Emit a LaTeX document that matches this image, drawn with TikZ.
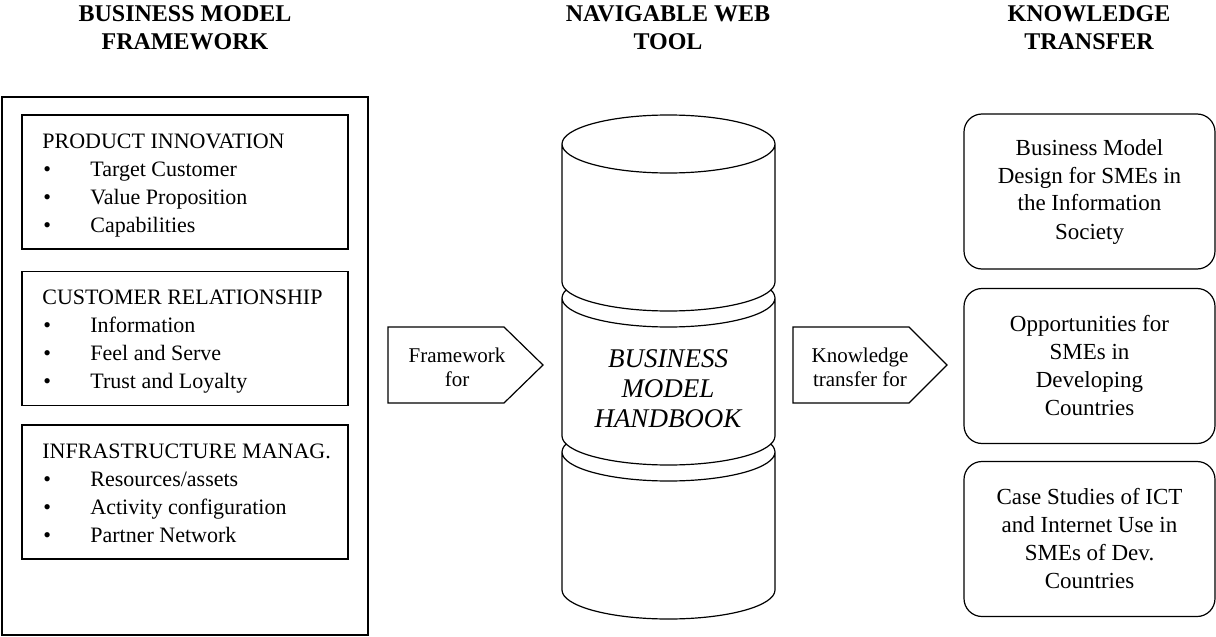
\documentclass[tikz,border=0pt]{standalone}
\usepackage{fontspec}
\setmainfont{Liberation Serif}
\usepackage{tikz}

\tikzset{
  heading/.style={font=\fontsize{12}{14}\selectfont\bfseries, align=center},
  panel/.style={draw, line width=0.6pt, minimum width=163pt, minimum height=67pt, inner sep=0pt},
  item/.style={anchor=west, font=\fontsize{11}{14}\selectfont, inner sep=0pt,
    text height=7.5pt, text depth=2.5pt},
  tag/.style={font=\fontsize{10.5}{12}\selectfont, align=center},
  pointer/.style={draw, line width=0.6pt},
  result/.style={draw, line width=0.6pt, rounded corners=9pt, minimum width=125.5pt,
    minimum height=77.5pt, align=center, font=\fontsize{11.5}{14}\selectfont},
}

\begin{document}
\begin{tikzpicture}[x=0.5pt,y=-0.5pt]
\useasboundingbox (0,0) rectangle (1216,637);

%%% --- Column titles --- %%%
\node[heading] (t-bmf) at (185,28) {BUSINESS MODEL\\FRAMEWORK};
\node[heading] (t-web) at (668,28) {NAVIGABLE WEB\\TOOL};
\node[heading] (t-kt) at (1089,28) {KNOWLEDGE\\TRANSFER};


%%% --- Business model framework --- %%%
\node[draw, line width=0.6pt, minimum width=183pt, minimum height=269pt] (bmf) at (185,366) {};

\node[panel] (pi) at (185,182) {};
\node[panel] (cr) at (185,338.5) {};
\node[panel] (im) at (185,492) {};

\node[item] (h-pi) at (42,143) {PRODUCT INNOVATION};
\node[item] (h-cr) at (42,299) {CUSTOMER RELATIONSHIP};
\node[item] (h-im) at (42,453) {INFRASTRUCTURE MANAG.};

% bullet lists
\foreach \y/\txt [count=\i] in {171/Target Customer, 199/Value Proposition, 227/Capabilities,
    327/Information, 355/Feel and Serve, 383/Trust and Loyalty,
    481/{Resources/assets}, 509/Activity configuration, 537/Partner Network}
{
  \node[item] (dot-\i) at (43,\y) {\textbullet};
  \node[item] (it-\i) at (90,\y) {\txt};
}


%%% --- Framework for --- %%%
\draw[pointer] (388,327) -- (504,327) -- (543,365) -- (504,403) -- (388,403) -- cycle;
\node[tag] (fw) at (457,367) {Framework\\for};


%%% --- Handbook cylinder (stacked discs) --- %%%
\foreach \t in {452,298,144}
  \filldraw[fill=white, line width=0.6pt]
    (562,\t) -- (562,{\t+138})
    arc[start angle=180, end angle=360, x radius=53.25pt, y radius=14.5pt]
    -- (775,\t)
    arc[start angle=0, end angle=180, x radius=53.25pt, y radius=14.5pt]
    -- cycle
    (562,\t) arc[start angle=180, end angle=360, x radius=53.25pt, y radius=14.5pt];

\node[font=\fontsize{13.5}{15}\selectfont\itshape, align=center] (hb) at (668,389)
  {BUSINESS\\MODEL\\HANDBOOK};


%%% --- Knowledge transfer for --- %%%
\draw[pointer] (793,327) -- (909,327) -- (947,365) -- (909,403) -- (793,403) -- cycle;
\node[tag] (ktf) at (860,367) {Knowledge\\transfer for};


%%% --- Knowledge transfer targets --- %%%
\node[result] (r1) at (1089.5,191.5) {Business Model\\Design for SMEs in\\the Information\\Society};
\node[result] (r2) at (1089.5,366) {Opportunities for\\SMEs in\\Developing\\Countries};
\node[result] (r3) at (1089.5,539) {Case Studies of ICT\\and Internet Use in\\SMEs of Dev.\\Countries};

\end{tikzpicture}
\end{document}
